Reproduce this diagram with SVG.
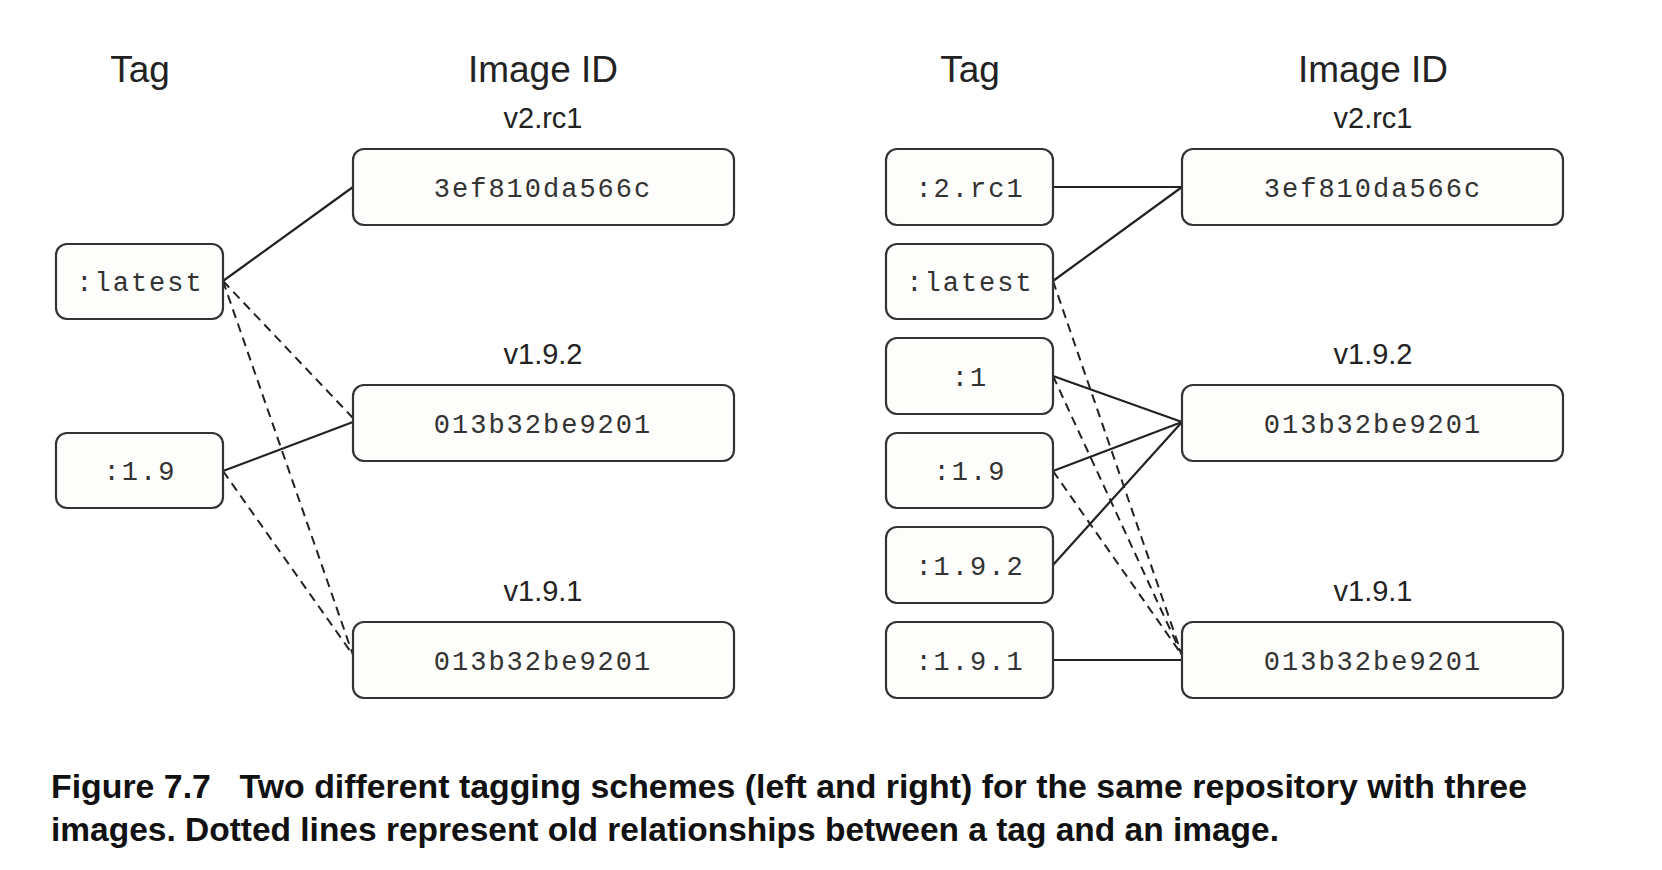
<svg xmlns="http://www.w3.org/2000/svg" width="1662" height="870" viewBox="0 0 1662 870">
<style>
.box{fill:#fdfdfb;stroke:#333;stroke-width:2.2}
.mono{font-family:"Liberation Mono","Courier New",monospace;font-size:27px;letter-spacing:2px;fill:#333;text-anchor:middle}
.hdr{font-family:"Liberation Sans",Arial,sans-serif;font-size:37px;fill:#222;text-anchor:middle}
.ver{font-family:"Liberation Sans",Arial,sans-serif;font-size:29px;fill:#222;text-anchor:middle}
.cap{font-family:"Liberation Sans Narrow","Liberation Sans",Arial,sans-serif;font-weight:bold;font-size:33px;fill:#111}
.s{stroke:#222;stroke-width:2.2;fill:none}
.d{stroke:#222;stroke-width:2;fill:none;stroke-dasharray:9 6}
</style>
<rect width="1662" height="870" fill="#fff"/>
<text class="hdr" x="140" y="82">Tag</text>
<text class="hdr" x="543" y="82">Image ID</text>
<text class="hdr" x="970" y="82">Tag</text>
<text class="hdr" x="1373" y="82">Image ID</text>
<text class="ver" x="543" y="128">v2.rc1</text>
<text class="ver" x="543" y="364">v1.9.2</text>
<text class="ver" x="543" y="601">v1.9.1</text>
<text class="ver" x="1373" y="128">v2.rc1</text>
<text class="ver" x="1373" y="364">v1.9.2</text>
<text class="ver" x="1373" y="601">v1.9.1</text>
<g id="connectors">
<line class="s" x1="223" y1="281" x2="353" y2="187"/>
<line class="d" x1="223" y1="281" x2="353" y2="418"/>
<line class="d" x1="223" y1="281" x2="353" y2="655"/>
<line class="s" x1="223" y1="471" x2="353" y2="422"/>
<line class="d" x1="223" y1="471" x2="353" y2="655"/>
<line class="s" x1="1053" y1="187" x2="1182" y2="187"/>
<line class="s" x1="1053" y1="281" x2="1182" y2="187"/>
<line class="s" x1="1053" y1="376" x2="1182" y2="422"/>
<line class="s" x1="1053" y1="471" x2="1182" y2="422"/>
<line class="s" x1="1053" y1="565" x2="1182" y2="422"/>
<line class="s" x1="1053" y1="660" x2="1182" y2="660"/>
<line class="d" x1="1053" y1="281" x2="1182" y2="655"/>
<line class="d" x1="1053" y1="376" x2="1182" y2="655"/>
<line class="d" x1="1053" y1="471" x2="1182" y2="655"/>
</g>
<g id="l-latest"><rect class="box" x="56" y="244" width="167" height="75" rx="11"/><text class="mono" x="140" y="291">:latest</text></g>
<g id="l-19"><rect class="box" x="56" y="433" width="167" height="75" rx="11"/><text class="mono" x="140" y="480">:1.9</text></g>
<g id="l-img1"><rect class="box" x="353" y="149" width="381" height="76" rx="11"/><text class="mono" x="543" y="197">3ef810da566c</text></g>
<g id="l-img2"><rect class="box" x="353" y="385" width="381" height="76" rx="11"/><text class="mono" x="543" y="433">013b32be9201</text></g>
<g id="l-img3"><rect class="box" x="353" y="622" width="381" height="76" rx="11"/><text class="mono" x="543" y="670">013b32be9201</text></g>
<g id="r-2rc1"><rect class="box" x="886" y="149" width="167" height="76" rx="11"/><text class="mono" x="970" y="197">:2.rc1</text></g>
<g id="r-latest"><rect class="box" x="886" y="244" width="167" height="75" rx="11"/><text class="mono" x="970" y="291">:latest</text></g>
<g id="r-1"><rect class="box" x="886" y="338" width="167" height="76" rx="11"/><text class="mono" x="970" y="386">:1</text></g>
<g id="r-19"><rect class="box" x="886" y="433" width="167" height="75" rx="11"/><text class="mono" x="970" y="480">:1.9</text></g>
<g id="r-192"><rect class="box" x="886" y="527" width="167" height="76" rx="11"/><text class="mono" x="970" y="575">:1.9.2</text></g>
<g id="r-191"><rect class="box" x="886" y="622" width="167" height="76" rx="11"/><text class="mono" x="970" y="670">:1.9.1</text></g>
<g id="r-img1"><rect class="box" x="1182" y="149" width="381" height="76" rx="11"/><text class="mono" x="1373" y="197">3ef810da566c</text></g>
<g id="r-img2"><rect class="box" x="1182" y="385" width="381" height="76" rx="11"/><text class="mono" x="1373" y="433">013b32be9201</text></g>
<g id="r-img3"><rect class="box" x="1182" y="622" width="381" height="76" rx="11"/><text class="mono" x="1373" y="670">013b32be9201</text></g>
<text class="cap" x="51" y="798" textLength="1476" lengthAdjust="spacingAndGlyphs">Figure 7.7<tspan dx="28">Two different tagging schemes (left and right) for the same repository with three</tspan></text>
<text class="cap" x="51" y="841" textLength="1228" lengthAdjust="spacingAndGlyphs">images. Dotted lines represent old relationships between a tag and an image.</text>
</svg>
